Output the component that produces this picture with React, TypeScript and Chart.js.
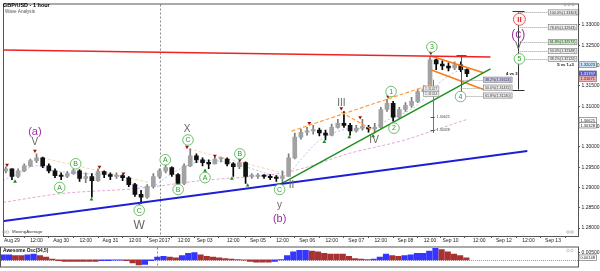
import { useEffect, useRef } from "react";
import { Chart, registerables } from "chart.js";

Chart.register(...registerables);

const FONT = "'Liberation Sans', 'DejaVu Sans', Arial, sans-serif";

// ---------- price data (3-hour buckets, trading-hour index, 0 = Aug 29 00:00) ----------
const candleHour = [-3,0,3,6,9,12,15,18,21,24,27,30,33,36,39,42,45,48,51,54,57,60,63,66,69,72,75,78,81,84,87,90,93,96,99,102,105,108,111,114,117,120,123,126,129,132,135,138,141,144,147,150,153,156,159,162,165,168,171,174,177,180,183,186,189,192,195,198,201,204,207,210,213,216,219,222];
const firstOpen = 1.2941;
const closes = [1.2946,1.2927,1.2941,1.2953,1.2966,1.2973,1.2953,1.2941,1.2929,1.2927,1.2934,1.2941,1.2922,1.2927,1.2917,1.2939,1.2932,1.2927,1.2929,1.2924,1.2907,1.2883,1.2876,1.2902,1.2927,1.2941,1.2949,1.2932,1.2910,1.2953,1.2978,1.2968,1.2961,1.2958,1.2970,1.2970,1.2958,1.2951,1.2961,1.2927,1.2927,1.2929,1.2927,1.2924,1.2922,1.2927,1.2973,1.3024,1.3036,1.3039,1.3041,1.3034,1.3029,1.3048,1.3058,1.3053,1.3039,1.3046,1.3048,1.3044,1.3048,1.3092,1.3107,1.3073,1.3092,1.3102,1.3112,1.3136,1.3143,1.3214,1.3204,1.3199,1.3194,1.3202,1.3190,1.3180];
const highs = [1.2951,1.2946,1.2946,1.2958,1.2970,1.2983,1.2975,1.2958,1.2946,1.2936,1.2939,1.2946,1.2944,1.2936,1.2934,1.2946,1.2941,1.2936,1.2936,1.2932,1.2927,1.2910,1.2893,1.2907,1.2934,1.2946,1.2956,1.2951,1.2934,1.2958,1.2995,1.2983,1.2973,1.2968,1.2975,1.2975,1.2973,1.2961,1.2966,1.2963,1.2934,1.2934,1.2932,1.2932,1.2929,1.2941,1.2983,1.3034,1.3044,1.3048,1.3053,1.3046,1.3041,1.3056,1.3068,1.3087,1.3058,1.3053,1.3068,1.3053,1.3058,1.3097,1.3117,1.3112,1.3097,1.3109,1.3122,1.3141,1.3151,1.3221,1.3216,1.3212,1.3207,1.3209,1.3209,1.3192];
const lows = [1.2936,1.2919,1.2924,1.2939,1.2951,1.2961,1.2949,1.2936,1.2924,1.2919,1.2924,1.2932,1.2915,1.2912,1.2876,1.2915,1.2924,1.2919,1.2922,1.2917,1.2902,1.2878,1.2861,1.2873,1.2898,1.2922,1.2936,1.2927,1.2902,1.2907,1.2951,1.2961,1.2953,1.2946,1.2958,1.2963,1.2953,1.2927,1.2946,1.2910,1.2922,1.2922,1.2922,1.2919,1.2915,1.2910,1.2927,1.2970,1.3019,1.3029,1.3031,1.3027,1.3017,1.3027,1.3046,1.3048,1.3029,1.3036,1.3041,1.3036,1.3034,1.3046,1.3087,1.3063,1.3070,1.3087,1.3097,1.3109,1.3131,1.3141,1.3190,1.3190,1.3187,1.3190,1.3185,1.3173];

// Awesome Oscillator (34,5)
const aoValues = [0.0035,0.0035,0.0030,0.0030,0.0035,0.0040,0.0030,0.0020,0.0005,-0.0005,-0.0010,-0.0010,-0.0010,-0.0010,-0.0010,-0.0010,-0.0005,-0.0005,-0.0002,-0.0002,-0.0005,-0.0020,-0.0035,-0.0030,-0.0005,0.0020,0.0025,0.0020,0.0015,0.0030,0.0045,0.0050,0.0035,0.0025,0.0020,0.0015,0.0010,0.0005,0.0003,-0.0002,-0.0010,-0.0015,-0.0015,-0.0015,-0.0010,0.0002,0.0030,0.0055,0.0065,0.0065,0.0060,0.0055,0.0045,0.0040,0.0040,0.0040,0.0025,0.0010,0.0005,0.0003,0.0005,0.0020,0.0040,0.0030,0.0025,0.0030,0.0035,0.0045,0.0045,0.0060,0.0080,0.0070,0.0055,0.0040,0.0030,0.0015];

// ---------- axes ----------
const xTickHour = [0,12,24,36,48,60,72,84,94,108,120,132,144,156,168,180,192,204,214,228,240,252,264];
const xTickLabel = ["Aug 29","12:00","Aug 30","12:00","Aug 31","12:00","Sep 2017","12:00","Sep 03","12:00","Sep 05","12:00","Sep 06","12:00","Sep 07","12:00","Sep 08","12:00","Sep 10","12:00","Sep 12","12:00","Sep 13"];
const yTicks = [1.28,1.285,1.29,1.295,1.30,1.305,1.31,1.315,1.32,1.325,1.33];
const aoTicks = [0.005];
const X_MIN = -3.88;
const X_MAX = 276.2;
const Y_MIN = 1.27805;
const Y_MAX = 1.33504;

// ---------- moving averages ----------
const maFastH = [-4.4,2.9,11.7,19.9,29.6,41.7,53.9,61.2,68.4,75.7,85.4,95.1,107.3,117.0,126.7,134.0,141.3,151.0,163.1,175.2,185.0,194.7,201.9,209.2,216.5,222.3];
const maFastP = [1.29170,1.29340,1.29535,1.29413,1.29364,1.29316,1.29267,1.29048,1.29023,1.29267,1.29535,1.29656,1.29608,1.29462,1.29316,1.29316,1.29705,1.30192,1.30435,1.30460,1.30703,1.30923,1.31215,1.31605,1.31848,1.31921];
const maSlowH = [-4.4,24.8,61.2,92.7,126.7,141.3,165.5,189.8,209.2,222.3];
const maSlowP = [1.28633,1.28853,1.28975,1.29170,1.29316,1.29462,1.29851,1.30143,1.30460,1.30679];

// ---------- trend lines (start / end) ----------
const lineH1 = [-4.37,-4.37,131.55,204.37,204.37,136.4,160.68,15.05,86.41];
const lineP1 = [1.32384,1.28170,1.29096,1.32238,1.31897,1.30387,1.30850,1.29729,1.29948];
const lineH2 = [233.5,251.46,233.5,230.1,230.1,204.37,176.2,66.99,131.55];
const lineP2 = [1.32213,1.29900,1.31921,1.31824,1.31410,1.31531,1.30411,1.29120,1.29364];

// ---------- fractal markers ----------
const peakH = [-2.4,11.2,42.7,54.4,85.4,99.0,111.2,145.1,160.7,169.9,183.5,204.4];
const peakP = [1.29559,1.29900,1.29510,1.29340,1.29997,1.29778,1.29681,1.30582,1.30947,1.30728,1.31239,1.32311];
const troughH = [1.5,38.8,62.1,81.1,94.2,107.3,115.0,130.6,152.4,164.6,176.2,185.9];
const troughP = [1.29145,1.28706,1.28560,1.29023,1.29413,1.29218,1.29048,1.29048,1.30119,1.30241,1.30265,1.30557];

// ---------- wave labels ----------
const waveText = ["(a)","V","W","X","y","(b)","II","III","IV","(c)","V"];
const waveH = [11.2,11.2,62.1,85.4,130.6,130.6,136.4,160.7,176.7,247.1,247.1];
const waveP = [1.30362,1.30119,1.28049,1.30436,1.28560,1.28219,1.29047,1.31069,1.30168,1.32749,1.32481];
const waveKind = ["purple","grey","greyBig","grey","grey","purple","grey","grey","grey","purpleBig","grey"];
const circText = ["A","B","C","A","B","C","A","B","C","1","2","3","4","5"];
const circH = [23.3,31.1,62.1,74.8,81.1,85.9,94.2,111.2,130.6,185.0,186.4,204.9,218.9,247.6];
const circP = [1.28999,1.29583,1.28438,1.29681,1.28950,1.30168,1.29242,1.29827,1.28950,1.31361,1.30460,1.32457,1.31239,1.32165];
const redCircText = "II";
const redCircH = 247.6;
const redCircP = 1.33139;

// ---------- fibonacci projections ----------
const fibText = ["100.0%(1.33303)","78.6%(1.32943)","61.8%(1.32572)","50.0%(1.32348)","38.2%(1.32120)"];
const fibP = [1.33309,1.32944,1.32578,1.32360,1.32165];
const fib4Text = ["38.2%(1.31624)","50.0%(1.31432)","61.8%(1.31240)"];
const fib4P = [1.31653,1.31458,1.31263];
const axisBoxText = ["1.32023","1.31797","1.31671","1.30625","1.30328"];
const axisBoxP = [1.32026,1.31799,1.31677,1.30655,1.30533];
const measureText = ["1.30625","1.30328"];
const measureP = [1.30728,1.30411];
const greyBoxText = ["1.31427","1.31014"];
const greyBoxP = [1.31434,1.31300];
const aoBoxText = "0.00148";

const monthStartHour = xTickHour[xTickLabel.indexOf("Sep 2017")];

function drawBox(ctx: any, text: string, x: number, y: number, fill: string, stroke: string, ink: string, size: number, align: string) {
  ctx.font = `${size}px ${FONT}`;
  const w = ctx.measureText(text).width + 3;
  const h = size + 1.6;
  const bx = align === "left" ? x : x - w;
  ctx.fillStyle = fill;
  ctx.fillRect(bx, y - h / 2, w, h);
  ctx.strokeStyle = stroke;
  ctx.lineWidth = 0.7;
  ctx.setLineDash([]);
  ctx.strokeRect(bx, y - h / 2, w, h);
  ctx.fillStyle = ink;
  ctx.textAlign = "left";
  ctx.textBaseline = "middle";
  ctx.fillText(text, bx + 1.5, y + 0.3);
  return bx;
}

const mainDeco = {
  id: "mainDeco",
  beforeDatasetsDraw(chart: any) {
    const { ctx, chartArea: a, scales } = chart;
    const x = Math.round(scales.x.getPixelForValue(monthStartHour)) + 0.5;
    ctx.save();
    ctx.strokeStyle = "#8a8a8a";
    ctx.lineWidth = 1;
    ctx.setLineDash([2, 2]);
    ctx.beginPath();
    ctx.moveTo(x, a.top);
    ctx.lineTo(x, a.bottom);
    ctx.stroke();
    ctx.restore();
  },
  afterDatasetsDraw(chart: any) {
    const { ctx, scales } = chart;
    const X = (h: number) => scales.x.getPixelForValue(h);
    const Y = (p: number) => scales.y.getPixelForValue(p);
    ctx.save();
    const vline = (h: number, p1: number, p2: number, color: string, capTop: number, capBot: number) => {
      const x = Math.round(X(h)) + 0.5;
      const y1 = Y(p1), y2 = Y(p2);
      ctx.strokeStyle = color;
      ctx.lineWidth = 1;
      ctx.setLineDash([]);
      ctx.beginPath();
      ctx.moveTo(x, y1);
      ctx.lineTo(x, y2);
      if (capTop) { ctx.moveTo(x - capTop / 2, Math.round(y1) + 0.5); ctx.lineTo(x + capTop / 2, Math.round(y1) + 0.5); }
      if (capBot) { ctx.moveTo(x - capBot / 2, Math.round(y2) + 0.5); ctx.lineTo(x + capBot / 2, Math.round(y2) + 0.5); }
      ctx.stroke();
    };
    vline(205.3, 1.31653, 1.30338, "#777", 0, 0);
    measureP.forEach((p, i) => {
      const x = X(205.3), y = Math.round(Y(p)) + 0.5;
      ctx.strokeStyle = "#555";
      ctx.beginPath(); ctx.moveTo(x - 2, y); ctx.lineTo(x + 2, y); ctx.stroke();
      ctx.fillStyle = "#444";
      ctx.font = `3.6px ${FONT}`;
      ctx.textAlign = "left"; ctx.textBaseline = "middle";
      ctx.fillText(measureText[i], X(207.3), Y(p));
    });
    greyBoxText.forEach((t, i) => drawBox(ctx, t, X(208.3), Y(greyBoxP[i]), "#eeeeee", "#999", "#555", 3.4, "right"));
    vline(218.9, 1.32262, 1.31361, "#555", 10, 0);
    vline(247.1, 1.33334, 1.31410, "#333", 12, 12);
    ctx.setLineDash([1, 1]);
    ctx.strokeStyle = "#999";
    fibP.forEach((p) => {
      const y = Math.round(Y(p)) + 0.5;
      ctx.beginPath(); ctx.moveTo(X(247.1), y); ctx.lineTo(X(261.7), y); ctx.stroke();
    });
    fib4P.forEach((p) => {
      const y = Math.round(Y(p)) + 0.5;
      ctx.beginPath(); ctx.moveTo(X(218.9), y); ctx.lineTo(X(230.1), y); ctx.stroke();
    });
    fibText.forEach((t, i) => drawBox(ctx, t, X(261.7), Y(fibP[i]), i === 2 ? "#c6efc0" : "#eeeeee", "#888", "#333", 3.6, "left"));
    fib4Text.forEach((t, i) => drawBox(ctx, t, X(230.1), Y(fib4P[i]), i === 0 ? "#c9c9f2" : "#eeeeee", "#888", "#333", 3.6, "left"));
    ctx.fillStyle = "#111";
    ctx.font = `bold 4.2px ${FONT}`;
    ctx.textAlign = "center"; ctx.textBaseline = "middle";
    ctx.fillText("4 vs 3", X(243.9), Y(1.31787));
    ctx.fillText("5 vs 1+3", X(270.1), Y(1.32018));
    waveText.forEach((t, i) => {
      const k = waveKind[i];
      let size = 10, color = "#666";
      if (k === "greyBig") size = 12;
      if (k === "purple") { size = 11; color = "#98309e"; }
      if (k === "purpleBig") { size = 12; color = "#98309e"; }
      ctx.font = `${size}px ${FONT}`;
      ctx.fillStyle = color;
      ctx.textAlign = "center"; ctx.textBaseline = "middle";
      ctx.fillText(t, X(waveH[i]), Y(waveP[i]));
    });
    circText.forEach((t, i) => {
      const x = X(circH[i]), y = Y(circP[i]);
      ctx.beginPath(); ctx.arc(x, y, 5.3, 0, Math.PI * 2);
      ctx.fillStyle = "#ffffff"; ctx.fill();
      ctx.lineWidth = 0.9; ctx.setLineDash([]); ctx.strokeStyle = "#5cb85c"; ctx.stroke();
      ctx.fillStyle = "#2e9a2e";
      ctx.font = `7px ${FONT}`;
      ctx.textAlign = "center"; ctx.textBaseline = "middle";
      ctx.fillText(t, x, y + 0.4);
    });
    {
      const x = X(redCircH), y = Y(redCircP);
      ctx.beginPath(); ctx.arc(x, y, 6, 0, Math.PI * 2);
      ctx.fillStyle = "#fff1f1"; ctx.fill();
      ctx.lineWidth = 1; ctx.strokeStyle = "#e85c5c"; ctx.stroke();
      ctx.fillStyle = "#e03030";
      ctx.font = `bold 8px ${FONT}`;
      ctx.textAlign = "center"; ctx.textBaseline = "middle";
      ctx.fillText(redCircText, x, y + 0.5);
    }
    ctx.restore();
  },
  afterDraw(chart: any) {
    const { ctx, chartArea: a, scales } = chart;
    const Y = (p: number) => scales.y.getPixelForValue(p);
    ctx.save();
    ctx.strokeStyle = "#555";
    ctx.lineWidth = 1;
    ctx.setLineDash([]);
    ctx.strokeRect(a.left - 0.5, a.top - 0.5, a.right - a.left + 1, a.bottom - a.top + 1);
    const fills = ["#cfe5fb", "#5a5ad2", "#f1b3b3", "#ffffff", "#ffffff"];
    const inks = ["#123", "#fff", "#411", "#222", "#222"];
    axisBoxText.forEach((t, i) => drawBox(ctx, t, a.right + 1, Y(axisBoxP[i]), fills[i], "#777", inks[i], 4, "left"));
    ctx.fillStyle = "#000";
    ctx.font = `bold 5.5px ${FONT}`;
    ctx.textAlign = "left"; ctx.textBaseline = "middle";
    ctx.fillText("GBP/USD - 1 hour", 3, 5.5);
    ctx.fillStyle = "#555";
    ctx.font = `4.6px ${FONT}`;
    ctx.fillText("Wave Analysis", 5, 11.5);
    ctx.fillStyle = "#333";
    ctx.font = `4.4px ${FONT}`;
    ctx.fillText("MovingAverage", 12, a.bottom - 4);
    ctx.strokeStyle = "#999"; ctx.lineWidth = 0.6;
    [4, 7.5].forEach((cx) => { ctx.beginPath(); ctx.arc(cx, a.bottom - 4, 1.3, 0, Math.PI * 2); ctx.stroke(); });
    [565, 569, 573].forEach((cx) => { ctx.beginPath(); ctx.arc(cx, 4.5, 1.3, 0, Math.PI * 2); ctx.stroke(); });
    [568, 572].forEach((cx) => { ctx.beginPath(); ctx.arc(cx, a.bottom - 4, 1.3, 0, Math.PI * 2); ctx.stroke(); });
    ctx.restore();
  },
};

const oscDeco = {
  id: "oscDeco",
  beforeDatasetsDraw(chart: any) {
    const { ctx, chartArea: a, scales } = chart;
    ctx.save();
    ctx.strokeStyle = "#8a8a8a";
    ctx.lineWidth = 1;
    ctx.setLineDash([2, 2]);
    const x = Math.round(scales.x.getPixelForValue(monthStartHour)) + 0.5;
    ctx.beginPath(); ctx.moveTo(x, a.top); ctx.lineTo(x, a.bottom); ctx.stroke();
    ctx.setLineDash([1, 1]);
    ctx.strokeStyle = "#999";
    const y0 = Math.round(scales.y.getPixelForValue(0)) + 0.5;
    ctx.beginPath(); ctx.moveTo(a.left, y0); ctx.lineTo(a.right, y0); ctx.stroke();
    ctx.restore();
  },
  afterDraw(chart: any) {
    const { ctx, chartArea: a, scales } = chart;
    ctx.save();
    ctx.strokeStyle = "#555";
    ctx.lineWidth = 1;
    ctx.setLineDash([]);
    ctx.strokeRect(a.left - 0.5, a.top - 0.5, a.right - a.left + 1, a.bottom - a.top + 1);
    ctx.fillStyle = "#111";
    ctx.font = `bold 4.8px ${FONT}`;
    ctx.textAlign = "left"; ctx.textBaseline = "middle";
    ctx.fillText("Awesome Osc(34,5)", 3, a.top + 3.5);
    drawBox(ctx, aoBoxText, a.right + 1, scales.y.getPixelForValue(aoValues[aoValues.length - 1]), "#ffffff", "#777", "#222", 4, "left");
    ctx.strokeStyle = "#aaa"; ctx.lineWidth = 0.6;
    [568, 572].forEach((cx) => { ctx.beginPath(); ctx.arc(cx, a.top + 3, 1.3, 0, Math.PI * 2); ctx.stroke(); });
    ctx.restore();
  },
};

export default function App() {
  const mainRef = useRef<HTMLCanvasElement>(null);
  const oscRef = useRef<HTMLCanvasElement>(null);

  useEffect(() => {
    const opens = closes.map((c, i) => (i === 0 ? firstOpen : closes[i - 1]));
    const up = closes.map((c, i) => c >= opens[i]);
    const wickData = candleHour.map((h, i) => ({ x: h, y: [lows[i], highs[i]] }));
    const bodyData = candleHour.map((h, i) => ({ x: h, y: [opens[i], closes[i]] }));
    const wickColors = up.map((u) => (u ? "#7a7a7a" : "#000000"));
    const bodyColors = up.map((u) => (u ? "#a2a2a2" : "#111111"));

    const lineColor = ["#ee2222", "#1e1ed6", "#1f8f1f", "#ff7a10", "#ff7a10", "#ffa040", "#ffa040", "#fcd3a8", "#fcd3a8"];
    const lineWidth = [1.5, 2, 1.5, 1.5, 1.5, 1.2, 1.2, 1, 1];
    const lineDash = [[], [], [], [], [], [4, 2], [4, 2], [3, 2], [3, 2]];
    const lineOrder = [1, 1, 1, 1, 1, 1, 1, 9, 9];

    const datasets: any[] = [];
    datasets.push({
      type: "line",
      data: maSlowH.map((h, i) => ({ x: h, y: maSlowP[i] })),
      borderColor: "#e4a6dc", borderWidth: 1, borderDash: [3, 2], pointRadius: 0, tension: 0.35, order: 10,
    });
    datasets.push({
      type: "line",
      data: maFastH.map((h, i) => ({ x: h, y: maFastP[i] })),
      borderColor: "#a9c6f3", borderWidth: 1, borderDash: [2, 2], pointRadius: 0, tension: 0.35, order: 10,
    });
    lineH1.forEach((h, i) => {
      datasets.push({
        type: "line",
        data: [{ x: lineH1[i], y: lineP1[i] }, { x: lineH2[i], y: lineP2[i] }],
        borderColor: lineColor[i], borderWidth: lineWidth[i], borderDash: lineDash[i],
        pointRadius: 0, order: lineOrder[i],
      });
    });
    datasets.push({
      type: "bar", data: wickData, backgroundColor: wickColors, barThickness: 1, grouped: false, order: 4,
    });
    datasets.push({
      type: "bar", data: bodyData, backgroundColor: bodyColors, borderWidth: 0, barThickness: 4,
      grouped: false, minBarLength: 1.5, order: 3,
    });
    datasets.push({
      type: "scatter", data: peakH.map((h, i) => ({ x: h, y: peakP[i] })),
      pointStyle: "triangle", pointRotation: 180, pointRadius: 2.2,
      pointBackgroundColor: "#9a1010", pointBorderColor: "#9a1010", pointBorderWidth: 0, order: 2,
    });
    datasets.push({
      type: "scatter", data: troughH.map((h, i) => ({ x: h, y: troughP[i] })),
      pointStyle: "triangle", pointRadius: 2.2,
      pointBackgroundColor: "#1f8a1f", pointBorderColor: "#1f8a1f", pointBorderWidth: 0, order: 2,
    });

    const main = new Chart(mainRef.current as any, {
      type: "bar",
      data: { datasets },
      options: {
        responsive: false,
        animation: false,
        events: [],
        layout: { padding: { left: 1, top: 2, right: 0, bottom: 0 } },
        plugins: { legend: { display: false }, tooltip: { enabled: false } },
        scales: {
          x: {
            type: "linear", min: X_MIN, max: X_MAX, offset: false,
            afterBuildTicks: (s: any) => { s.ticks = xTickHour.map((v) => ({ value: v })); },
            afterFit: (s: any) => { s.height = 7; },
            ticks: {
              autoSkip: false, maxRotation: 0, padding: 0, color: "#222",
              font: { size: 5, family: FONT },
              callback: (v: any, i: number) => xTickLabel[i],
            },
            grid: { drawOnChartArea: false, tickLength: 2, color: "#555" },
            border: { color: "#555" },
          },
          y: {
            position: "right", min: Y_MIN, max: Y_MAX,
            afterBuildTicks: (s: any) => { s.ticks = yTicks.map((v) => ({ value: v })); },
            afterFit: (s: any) => { s.width = 22; },
            ticks: {
              padding: 1.5, color: "#222", font: { size: 5, family: FONT },
              callback: (v: any) => Number(v).toFixed(5),
            },
            grid: { drawOnChartArea: false, tickLength: 2, color: "#555" },
            border: { color: "#555" },
          },
        },
      } as any,
      plugins: [mainDeco],
    });

    const blue = "#3535ff";
    const red = "#a83232";
    let last = blue;
    const aoColors = aoValues.map((v, i) => {
      if (i > 0) {
        if (v > aoValues[i - 1]) last = blue;
        else if (v < aoValues[i - 1]) last = red;
      }
      return last;
    });

    const osc = new Chart(oscRef.current as any, {
      type: "bar",
      data: {
        datasets: [{
          data: candleHour.map((h, i) => ({ x: h, y: aoValues[i] })),
          backgroundColor: aoColors, barThickness: 5.5, grouped: false, borderWidth: 0,
        }],
      },
      options: {
        responsive: false,
        animation: false,
        events: [],
        layout: { padding: { left: 1, top: 1, right: 0, bottom: 1 } },
        plugins: { legend: { display: false }, tooltip: { enabled: false } },
        scales: {
          x: { type: "linear", min: X_MIN, max: X_MAX, offset: false, display: false },
          y: {
            position: "right", min: -0.0045, max: 0.0085,
            afterBuildTicks: (s: any) => { s.ticks = aoTicks.map((v) => ({ value: v })); },
            afterFit: (s: any) => { s.width = 22; },
            ticks: {
              padding: 1.5, color: "#222", font: { size: 5, family: FONT },
              callback: (v: any) => Number(v).toFixed(5),
            },
            grid: { drawOnChartArea: false, tickLength: 2, color: "#555" },
            border: { color: "#555" },
          },
        },
      } as any,
      plugins: [oscDeco],
    });

    return () => {
      main.destroy();
      osc.destroy();
    };
  }, []);

  return (
    <div style={{ position: "absolute", left: 0, top: 0, width: 600, height: 271, background: "#ffffff" }}>
      <canvas ref={mainRef} width={600} height={243} style={{ position: "absolute", left: 0, top: 0 }} />
      <canvas ref={oscRef} width={600} height={28} style={{ position: "absolute", left: 0, top: 243 }} />
    </div>
  );
}
